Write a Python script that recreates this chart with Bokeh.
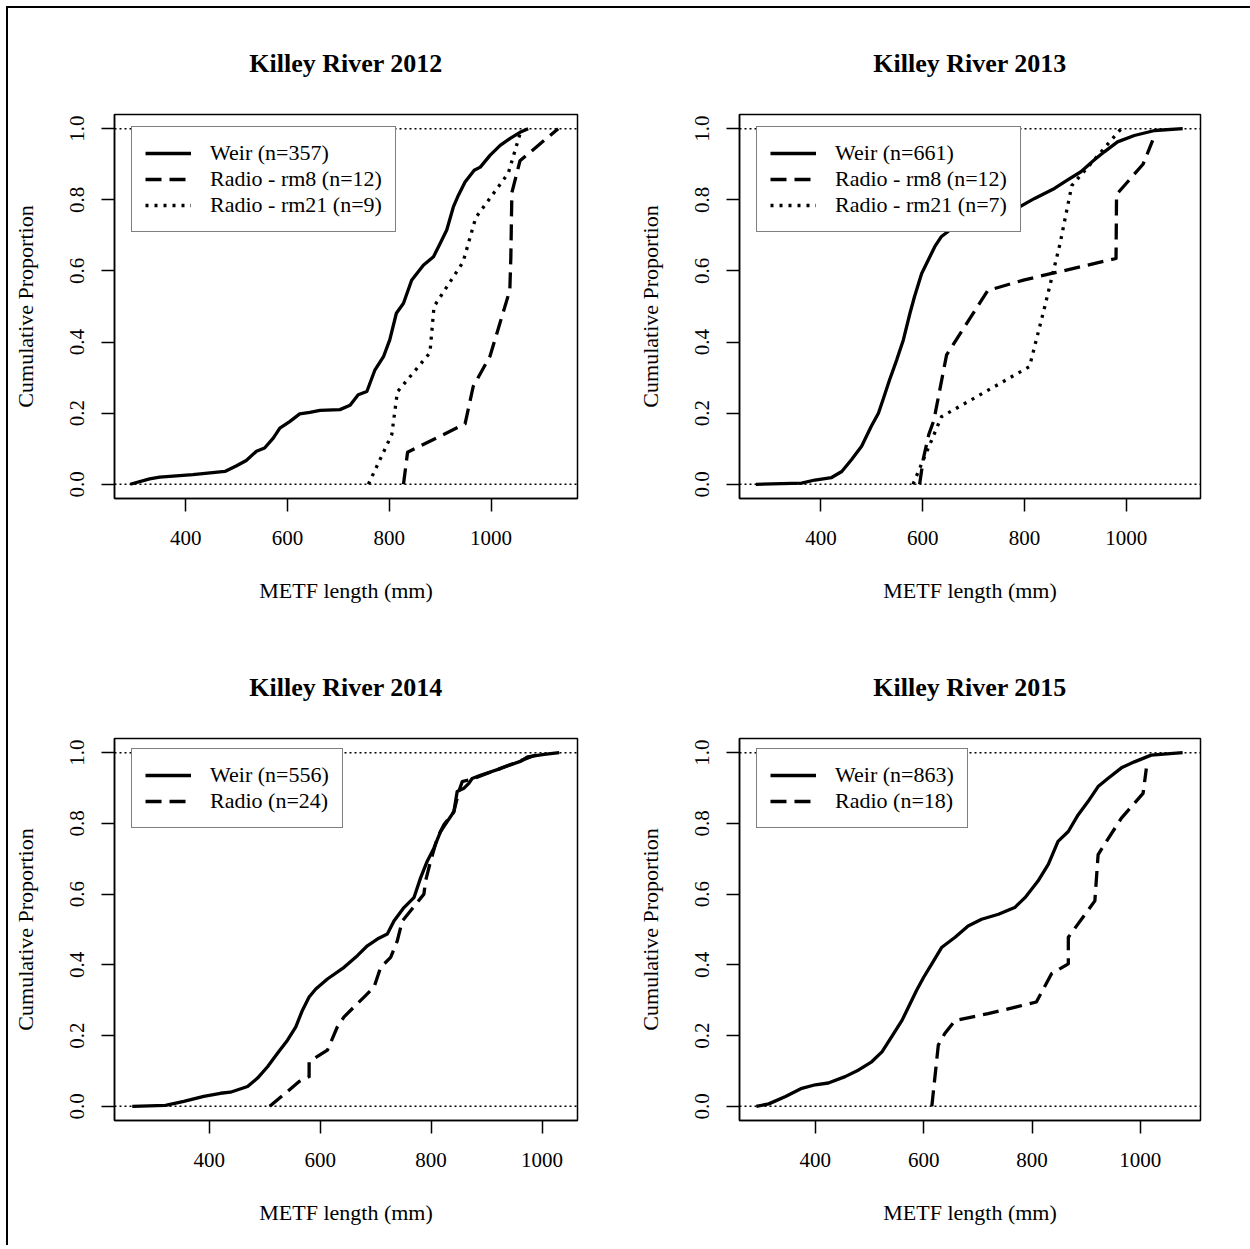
from bokeh.plotting import figure
from bokeh.layouts import column, row
from bokeh.models import Range1d, FixedTicker, Span, Legend, LegendItem
from bokeh.embed import file_html
from bokeh.resources import INLINE

FONT = "Liberation Serif"

# ---------------- data ----------------
titles = ["Killey River 2012", "Killey River 2013", "Killey River 2014", "Killey River 2015"]
x_label = "METF length (mm)"
y_label = "Cumulative Proportion"
x_ticks = [400, 600, 800, 1000]
y_ticks = [0.0, 0.2, 0.4, 0.6, 0.8, 1.0]
y_tick_labels = ["0.0", "0.2", "0.4", "0.6", "0.8", "1.0"]

# 2012
weir_2012_len = [291, 329, 349, 414, 477, 500, 519, 539, 555, 572, 585, 605, 624, 644, 664, 703, 723, 739, 756,
                 772, 789, 801, 814, 828, 844, 867, 887, 900, 913, 926, 936, 949, 967, 979, 998, 1018, 1037, 1057, 1073]
weir_2012_prop = [0, 0.015, 0.02, 0.027, 0.036, 0.052, 0.067, 0.093, 0.102, 0.13, 0.158, 0.177, 0.198, 0.202, 0.208,
                  0.21, 0.222, 0.252, 0.261, 0.322, 0.36, 0.406, 0.481, 0.509, 0.574, 0.616, 0.64, 0.677, 0.715,
                  0.78, 0.813, 0.85, 0.883, 0.892, 0.925, 0.953, 0.972, 0.99, 1.0]
rm8_2012_len = [828, 836, 949, 965, 998, 1037, 1039, 1040, 1041, 1057, 1132]
rm8_2012_prop = [0, 0.09, 0.17, 0.275, 0.36, 0.546, 0.64, 0.73, 0.82, 0.91, 1.0]
rm21_2012_len = [759, 805, 816, 880, 888, 945, 970, 1034, 1060]
rm21_2012_prop = [0, 0.14, 0.26, 0.37, 0.5, 0.625, 0.75, 0.875, 1.0]

# 2013
weir_2013_len = [272, 362, 388, 421, 441, 460, 480, 499, 513, 522, 535, 549, 562, 575, 584, 598, 611, 624, 637,
                 650, 665, 700, 740, 779, 820, 859, 885, 911, 937, 957, 983, 1016, 1056, 1111]
weir_2013_prop = [0, 0.003, 0.012, 0.019, 0.036, 0.069, 0.107, 0.163, 0.2, 0.238, 0.294, 0.35, 0.406, 0.481,
                  0.528, 0.593, 0.631, 0.669, 0.697, 0.711, 0.735, 0.755, 0.765, 0.771, 0.804, 0.832, 0.856,
                  0.879, 0.912, 0.935, 0.963, 0.981, 0.995, 1.0]
rm8_2013_len = [594, 601, 612, 622, 647, 728, 800, 860, 980, 981, 1033, 1052]
rm8_2013_prop = [0, 0.07, 0.14, 0.18, 0.364, 0.545, 0.575, 0.595, 0.635, 0.815, 0.9, 0.967]
rm21_2013_len = [581, 637, 810, 840, 870, 893, 990]
rm21_2013_prop = [0, 0.19, 0.331, 0.5, 0.677, 0.84, 1.0]

# 2014
weir_2014_len = [261, 321, 354, 390, 420, 438, 469, 487, 505, 523, 541, 556, 568, 580, 592, 613, 643, 667, 685,
                 703, 721, 733, 751, 769, 781, 793, 805, 817, 829, 841, 847, 859, 868, 874, 889, 925, 962, 974,
                 1004, 1031]
weir_2014_prop = [0, 0.003, 0.014, 0.028, 0.037, 0.04, 0.056, 0.08, 0.112, 0.15, 0.187, 0.225, 0.272, 0.309,
                  0.332, 0.36, 0.393, 0.426, 0.454, 0.473, 0.487, 0.524, 0.562, 0.59, 0.646, 0.693, 0.73, 0.777,
                  0.805, 0.833, 0.89, 0.899, 0.913, 0.927, 0.936, 0.955, 0.976, 0.988, 0.995, 1.0]
radio_2014_len = [509, 562, 580, 580, 613, 631, 643, 679, 697, 709, 727, 739, 748, 787, 790, 799, 811, 823, 841,
                  850, 856, 877, 1000]
radio_2014_prop = [0, 0.07, 0.084, 0.126, 0.159, 0.225, 0.253, 0.309, 0.337, 0.393, 0.421, 0.468, 0.524, 0.6,
                   0.637, 0.693, 0.758, 0.796, 0.833, 0.89, 0.918, 0.927, 1.0]

# 2015
weir_2015_len = [291, 314, 345, 375, 400, 424, 455, 480, 504, 523, 541, 560, 572, 587, 600, 615, 633, 658, 682,
                 707, 738, 768, 787, 811, 830, 848, 867, 885, 903, 922, 940, 965, 989, 1020, 1078]
weir_2015_prop = [0, 0.007, 0.028, 0.051, 0.061, 0.066, 0.084, 0.103, 0.126, 0.154, 0.197, 0.243, 0.281, 0.328,
                  0.365, 0.403, 0.449, 0.478, 0.51, 0.529, 0.543, 0.562, 0.59, 0.637, 0.684, 0.749, 0.777, 0.824,
                  0.861, 0.904, 0.927, 0.957, 0.974, 0.993, 1.0]
radio_2015_len = [615, 627, 639, 658, 719, 808, 836, 867, 867, 916, 922, 965, 1005, 1011]
radio_2015_prop = [0, 0.173, 0.206, 0.243, 0.262, 0.295, 0.375, 0.403, 0.478, 0.581, 0.712, 0.815, 0.885, 0.955]

x_ranges = [(260, 1170), (240, 1146), (229, 1064), (260, 1111)]

panels = [
    [("Weir (n=357)", weir_2012_len, weir_2012_prop, None),
     ("Radio - rm8 (n=12)", rm8_2012_len, rm8_2012_prop, "16 8"),
     ("Radio - rm21 (n=9)", rm21_2012_len, rm21_2012_prop, "3 6")],
    [("Weir (n=661)", weir_2013_len, weir_2013_prop, None),
     ("Radio - rm8 (n=12)", rm8_2013_len, rm8_2013_prop, "16 8"),
     ("Radio - rm21 (n=7)", rm21_2013_len, rm21_2013_prop, "3 6")],
    [("Weir (n=556)", weir_2014_len, weir_2014_prop, None),
     ("Radio (n=24)", radio_2014_len, radio_2014_prop, "16 8")],
    [("Weir (n=863)", weir_2015_len, weir_2015_prop, None),
     ("Radio (n=18)", radio_2015_len, radio_2015_prop, "16 8")],
]

# geometry: (width, height, left border, top border, frame w, frame h)
geom = [
    (626, 625, 106, 106, 463, 384),
    (616, 625, 104, 106, 462, 384),
    (626, 612, 106, 104, 463, 383),
    (616, 612, 104, 104, 462, 383),
]


def make_panel(i):
    w, h, lb, tb, fw, fh = geom[i]
    p = figure(width=w, height=h, x_range=Range1d(*x_ranges[i]), y_range=Range1d(-0.04, 1.04),
               output_backend="svg", toolbar_location=None, title=titles[i],
               min_border_left=lb, min_border_top=tb,
               min_border_right=w - lb - fw, min_border_bottom=h - tb - fh)
    p.background_fill_color = "white"
    p.border_fill_color = "white"
    p.outline_line_color = "black"
    p.outline_line_width = 1.5
    p.xgrid.visible = False
    p.ygrid.visible = False

    p.title.text_font = FONT
    p.title.text_font_size = "26px"
    p.title.text_font_style = "bold"
    p.title.text_color = "black"
    p.title.align = "center"
    p.title.standoff = 74

    for ax in (p.xaxis[0], p.yaxis[0]):
        ax.axis_line_color = "black"
        ax.axis_line_width = 1.5
        ax.major_tick_line_color = "black"
        ax.major_tick_line_width = 1.5
        ax.major_tick_out = 13
        ax.major_tick_in = 0
        ax.minor_tick_line_color = None
        ax.major_label_text_font = FONT
        ax.major_label_text_font_size = "21px"
        ax.major_label_text_color = "black"
        ax.axis_label_text_font = FONT
        ax.axis_label_text_font_size = "22px"
        ax.axis_label_text_font_style = "normal"
        ax.axis_label_text_color = "black"

    p.xaxis.ticker = FixedTicker(ticks=x_ticks)
    p.yaxis.ticker = FixedTicker(ticks=y_ticks)
    p.yaxis.major_label_overrides = {t: s for t, s in zip(y_ticks, y_tick_labels)}
    p.yaxis.major_label_orientation = "vertical"
    p.xaxis.major_label_standoff = 19
    p.yaxis.major_label_standoff = 17
    p.xaxis.axis_label = x_label
    p.yaxis.axis_label = y_label
    p.xaxis.axis_label_standoff = 30
    p.yaxis.axis_label_standoff = 30

    for loc in (0, 1):
        p.add_layout(Span(location=loc, dimension="width", line_color="black",
                          line_width=1.5, line_dash="2 3"))

    items = []
    for label, xs, ys, dash in panels[i]:
        kw = {}
        if dash is not None:
            kw["line_dash"] = dash
        r = p.line(xs, ys, line_color="black", line_width=3.3, line_join="round", **kw)
        items.append(LegendItem(label=label, renderers=[r]))

    n = len(items)
    pad, ih, sp = 13, 26, 0
    lh = 2 * pad + n * ih + (n - 1) * sp
    top_off = 14 if fh == 384 else 13
    leg = Legend(items=items, location=(17, fh - top_off - lh), orientation="vertical",
                 padding=pad, spacing=sp, margin=0,
                 label_height=ih, glyph_height=ih, glyph_width=46, label_standoff=19,
                 label_text_font=FONT, label_text_font_size="22px", label_text_color="black",
                 border_line_color="black", border_line_width=1.5,
                 background_fill_color="white", background_fill_alpha=1.0)
    p.add_layout(leg)
    return p


figs = [make_panel(i) for i in range(4)]
layout = column(row(figs[0], figs[1]), row(figs[2], figs[3]),
                margin=(6, 0, 0, 6),
                styles={"border-left": "2px solid black", "border-top": "2px solid black"})

open("out.html", "w").write(file_html(layout, INLINE))
